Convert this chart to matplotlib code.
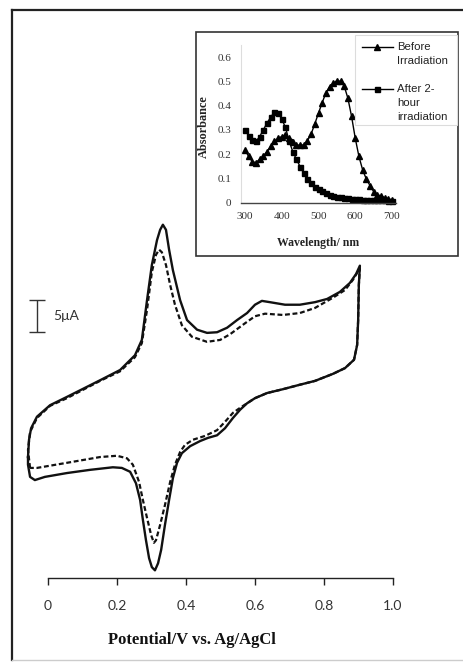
import matplotlib
matplotlib.use("Agg")
import matplotlib.pyplot as plt
from matplotlib.lines import Line2D
from matplotlib.patches import Rectangle

# ---------------- data: cyclic voltammograms (E in V, I in uA, arbitrary offset) -------------
cv_solid_E = [-0.058, -0.055, -0.049, -0.032, 0.006, 0.055, 0.151, 0.209, 0.252, 0.272, 0.287,
              0.301, 0.316, 0.325, 0.333, 0.342, 0.351, 0.362, 0.383, 0.403, 0.432, 0.461, 0.490,
              0.519, 0.548, 0.577, 0.600, 0.620, 0.643, 0.687, 0.730, 0.774, 0.809, 0.846, 0.875,
              0.893, 0.904,
              0.901, 0.899, 0.896, 0.887, 0.861, 0.826, 0.774, 0.730, 0.681, 0.635, 0.600, 0.577,
              0.557, 0.536, 0.513, 0.490, 0.464, 0.441, 0.412, 0.388, 0.374, 0.362, 0.351, 0.339,
              0.328, 0.319, 0.310, 0.301, 0.293, 0.284, 0.275, 0.267, 0.255, 0.238, 0.214, 0.188,
              0.122, 0.055, -0.009, -0.038, -0.052, -0.058, -0.058]
cv_solid_I = [-1.1, 1.6, 3.4, 5.2, 7.0, 8.3, 10.9, 12.5, 14.8, 17.2, 23.4,
              28.9, 32.8, 34.4, 35.2, 34.4, 31.3, 28.1, 23.4, 20.3, 18.8, 18.3, 18.4,
              19.1, 20.3, 21.4, 22.7, 23.3, 23.1, 22.7, 22.7, 23.1, 23.6, 24.7, 26.1,
              27.5, 28.8,
              25.8, 20.3, 16.4, 14.1, 12.8, 11.9, 10.8, 10.2, 9.5, 8.9, 8.1, 7.3,
              6.3, 5.0, 3.4, 2.3, 1.9, 1.4, 0.6, -0.5, -2.0, -4.4, -7.8, -11.7,
              -15.6, -17.7, -18.8, -18.3, -16.9, -14.1, -10.9, -7.8, -5.2, -3.4, -2.8, -2.7,
              -3.1, -3.6, -4.2, -4.7, -4.2, -2.3, -1.1]

cv_dashed_E = [-0.052, -0.058, -0.052, -0.032, 0.006, 0.055, 0.151, 0.209, 0.252, 0.272, 0.287,
               0.301, 0.313, 0.322, 0.330, 0.342, 0.354, 0.368, 0.388, 0.417, 0.461, 0.499,
               0.528, 0.571, 0.600, 0.629, 0.681, 0.730, 0.774, 0.826, 0.861, 0.884, 0.904,
               0.901, 0.899, 0.896, 0.887, 0.861, 0.826, 0.774, 0.730, 0.681, 0.635, 0.600,
               0.577, 0.557, 0.536, 0.513, 0.490, 0.455, 0.420, 0.397, 0.383, 0.368, 0.354,
               0.339, 0.325, 0.313, 0.307, 0.299, 0.287, 0.275, 0.264, 0.246, 0.229, 0.200,
               0.151, 0.055, -0.032, -0.052]
cv_dashed_I = [-2.8, 0.0, 2.8, 5.0, 6.9, 8.1, 10.8, 12.3, 14.5, 16.7, 21.9,
               27.8, 30.5, 31.3, 30.9, 28.9, 25.8, 22.7, 19.5, 17.7, 16.9, 17.2,
               18.1, 19.8, 20.9, 21.3, 21.1, 21.4, 22.2, 23.8, 25.0, 26.6, 28.4,
               25.8, 20.3, 16.4, 14.1, 12.8, 11.9, 10.8, 10.2, 9.5, 8.9, 8.1,
               7.3, 6.6, 5.8, 4.4, 3.1, 2.2, 1.6, 0.8, -0.3, -2.3, -5.0,
               -8.6, -11.7, -14.1, -14.5, -13.3, -10.6, -7.8, -5.0, -2.3, -1.3, -0.9,
               -1.1, -2.0, -2.8, -2.8]

cv_ticks = [0, 0.2, 0.4, 0.6, 0.8, 1.0]
cv_tick_labels = ["0", "0.2", "0.4", "0.6", "0.8", "1.0"]
scale_bar_E = -0.032
scale_bar_I = [18.4, 23.4]
scale_bar_label = "5μA"

# ---------------- data: inset UV-vis spectra ----------------
wavelength = [300, 310, 320, 330, 340, 350, 360, 370, 380, 390, 400, 410, 420, 430, 440, 450,
              460, 470, 480, 490, 500, 510, 520, 530, 540, 550, 560, 570, 580, 590, 600, 610,
              620, 630, 640, 650, 660, 670, 680, 690, 700]
abs_before = [0.217, 0.190, 0.168, 0.165, 0.178, 0.193, 0.210, 0.232, 0.252, 0.265, 0.272,
              0.278, 0.265, 0.248, 0.238, 0.236, 0.238, 0.255, 0.283, 0.325, 0.369, 0.412,
              0.452, 0.478, 0.492, 0.503, 0.500, 0.480, 0.430, 0.355, 0.265, 0.190, 0.135,
              0.097, 0.070, 0.045, 0.032, 0.027, 0.020, 0.015, 0.010]
abs_after = [0.300, 0.275, 0.257, 0.252, 0.272, 0.300, 0.328, 0.352, 0.373, 0.370, 0.345,
             0.310, 0.255, 0.210, 0.178, 0.148, 0.120, 0.098, 0.080, 0.065, 0.055, 0.046,
             0.038, 0.032, 0.027, 0.023, 0.021, 0.020, 0.018, 0.016, 0.015, 0.013, 0.012,
             0.011, 0.011, 0.010, 0.010, 0.009, 0.009, 0.008, 0.008]
inset_xticks = [300, 400, 500, 600, 700]
inset_yticks = [0, 0.1, 0.2, 0.3, 0.4, 0.5, 0.6]
inset_ytick_labels = ["0", "0.1", "0.2", "0.3", "0.4", "0.5", "0.6"]
legend_before = ["Before", "Irradiation"]
legend_after = ["After 2-", "hour", "irradiation"]

W, H = 464, 666
fig = plt.figure(figsize=(W / 100, H / 100), dpi=100)
fig.patch.set_facecolor("white")


def fx(px):
    return px / W


def fy(py):
    return 1 - py / H


# outer frame (left/top dark, bottom light)
fig.add_artist(Line2D([fx(12), fx(12)], [fy(10), fy(660)], color="#222222", lw=1.6))
fig.add_artist(Line2D([fx(12), 1.0], [fy(10), fy(10)], color="#222222", lw=1.6))
fig.add_artist(Line2D([fx(12), 1.0], [fy(660), fy(660)], color="#cccccc", lw=1.0))

# ---------------- main CV axes ----------------
ax = fig.add_axes([0, 0, 1, 1])
ax.patch.set_visible(False)
ax.set_xlim(-48 / 345, (W - 48) / 345)
ax.set_ylim((450 - H) / 6.4, 450 / 6.4)
for s in ["left", "right", "top"]:
    ax.spines[s].set_visible(False)
ax.spines["bottom"].set_position(("data", -20))
ax.spines["bottom"].set_bounds(0, 1.0)
ax.spines["bottom"].set_color("#222222")
ax.spines["bottom"].set_linewidth(1.0)
ax.set_yticks([])
ax.set_xticks(cv_ticks)
ax.set_xticklabels(cv_tick_labels, fontfamily="Lato", fontsize=10, color="#333333")
ax.tick_params(axis="x", direction="out", length=5, width=1, pad=11, color="#222222")

ax.plot(cv_solid_E, cv_solid_I, color="#111111", lw=1.7, solid_joinstyle="round")
ax.plot(cv_dashed_E, cv_dashed_I, color="#111111", lw=1.6, linestyle=(0, (2.2, 1.2)))

ax.errorbar([scale_bar_E], [sum(scale_bar_I) / 2], yerr=[(scale_bar_I[1] - scale_bar_I[0]) / 2],
            color="#333333", capsize=6, capthick=1.0, elinewidth=1.0, fmt="none")
ax.text(scale_bar_E + 0.048, sum(scale_bar_I) / 2, scale_bar_label, fontsize=10,
        family=["Lato", "DejaVu Sans"], color="#333333", ha="left", va="center")

fig.text(fx(192), fy(640), "Potential/V vs. Ag/AgCl", fontsize=12, fontweight="bold",
         family="Liberation Serif", ha="center", va="center", color="#111111")

# ---------------- inset ----------------
frame = Rectangle((fx(196), fy(256)), (458 - 196) / W, (256 - 32) / H,
                  fill=True, facecolor="white", edgecolor="#333333", lw=1.2,
                  transform=fig.transFigure, zorder=1)
fig.add_artist(frame)

ix0, ix1 = 241.3, 395.7
iy_top, iy_bot = 45, 202.5
iax = fig.add_axes([fx(ix0), fy(iy_bot), (ix1 - ix0) / W, (iy_bot - iy_top) / H])
iax.set_zorder(3)
iax.patch.set_visible(False)
iax.set_xlim(290, 710)
iax.set_ylim(0, 0.65)
iax.spines["top"].set_visible(False)
iax.spines["right"].set_visible(False)
iax.spines["left"].set_color("#dddddd")
iax.spines["left"].set_linewidth(0.8)
iax.spines["bottom"].set_color("#444444")
iax.spines["bottom"].set_linewidth(1.0)
iax.set_xticks(inset_xticks)
iax.set_xticklabels([str(v) for v in inset_xticks])
iax.set_yticks(inset_yticks)
iax.set_yticklabels(inset_ytick_labels)
iax.tick_params(length=0, labelsize=8, colors="#333333", pad=7)
for lab in iax.get_xticklabels() + iax.get_yticklabels():
    lab.set_family("Liberation Serif")

l1, = iax.plot(wavelength, abs_before, color="black", lw=1.0, marker="^", ms=3.8, clip_on=False)
l2, = iax.plot(wavelength, abs_after, color="black", lw=1.0, marker="s", ms=3.6, clip_on=False)

for t in [
    fig.text(fx(318), fy(243), "Wavelength/ nm", fontsize=8.5, fontweight="bold",
             family="Liberation Serif", ha="center", va="center", color="#222222"),
    fig.text(fx(204), fy(127), "Absorbance", fontsize=8.8, fontweight="bold",
             family="Liberation Serif", ha="center", va="center", rotation=90, color="#222222"),
]:
    t.set_zorder(4)

# legend (drawn by hand so the symbol sits on the first text line, as in the original)
leg_frame = Rectangle((fx(355), fy(125)), (457 - 355) / W, (125 - 35) / H, fill=True,
                      facecolor="white", edgecolor="#dcdcdc", lw=0.8,
                      transform=fig.transFigure, zorder=4)
fig.add_artist(leg_frame)
for lines, marker, ms, y0 in [(legend_before, "^", 3.8, 47), (legend_after, "s", 3.6, 89)]:
    fig.add_artist(Line2D([fx(362), fx(377.5), fx(393)], [fy(y0)] * 3, color="black", lw=1.0,
                          marker=marker, ms=ms, markevery=[1], zorder=5))
    for k, txt in enumerate(lines):
        t = fig.text(fx(397), fy(y0 + 14 * k), txt, fontsize=8.2, family="Liberation Sans",
                     ha="left", va="center", color="#222222")
        t.set_zorder(5)

fig.savefig("out.png", dpi=100)
